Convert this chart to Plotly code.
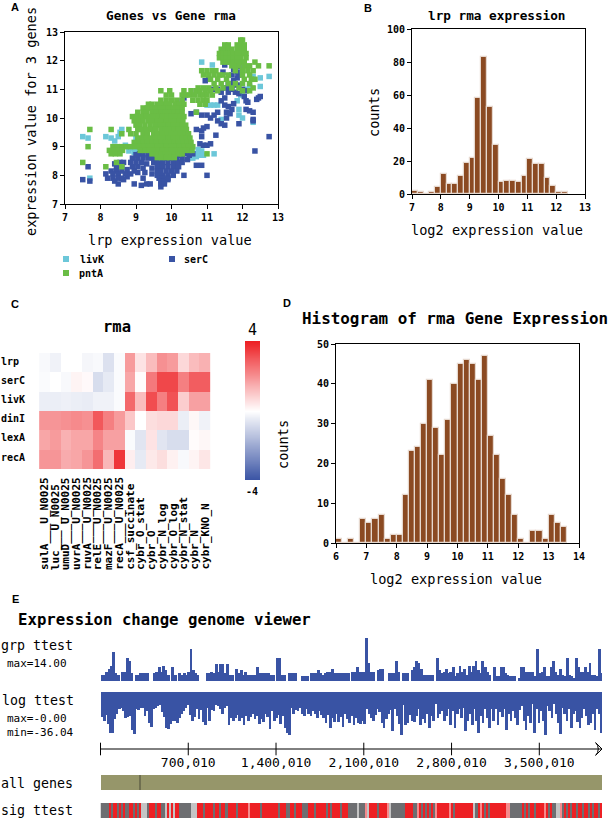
import plotly.graph_objects as go

W, H = 609, 825
MONO = "DejaVu Sans Mono"
BLUE = "#3953a4"
GREEN = "#6abd45"
CYAN = "#6cc7d9"
BROWN = "#8b4a22"
BAR_EDGE = "#e6d8ce"

# ---------- Panel A ----------
livK_points = [(7.5,9.35),(7.65,9.3),(7.7,7.9),(8.15,9.35),(8.3,9.3),(8.4,9.2),(8.5,9.35),(8.55,9.5),(8.6,9.6),(8.7,9.05),
 (8.85,8.95),(9.0,8.85),(9.0,9.3),(10.6,8.6),(10.7,8.65),(10.8,8.7),(10.85,8.85),(10.75,8.9),(10.9,8.7),(11.2,8.75),(10.7,8.75),
 (10.85,11.95),(11.15,11.85),(12.3,11.45),(12.5,11.4),(12.75,11.45),(12.5,11.1),(11.0,10.45),(11.1,10.45),(11.2,10.45),(11.3,10.45),
 (11.4,9.95),(12.0,10.0),(11.9,10.1),(11.9,10.3),(11.85,10.6),(11.95,10.8),(12.1,11.0),(12.2,11.1),(12.3,9.85),(10.3,10.05),
 (8.8,8.85),(8.95,8.8)]
serC_points = [(9.1,8.75),(9.2,8.75),(9.35,8.7),(10.4,8.75),(10.5,8.7),(10.6,8.75),(8.55,8.45),(8.9,8.6),(9.05,8.6),(9.2,8.6),(9.35,8.6),
 (9.65,8.55),(10.3,8.6),(10.45,8.55),(8.65,8.45),(8.85,8.45),(9.0,8.45),(9.15,8.45),(9.3,8.4),(9.5,8.45),(9.6,8.45),(9.75,8.45),(9.9,8.45),
 (10.05,8.45),(10.2,8.45),(10.3,8.45),(7.65,8.3),(8.45,8.3),(8.6,8.3),(8.9,8.3),(9.05,8.3),(9.2,8.25),(9.45,8.25),(9.6,8.3),(9.75,8.3),(9.9,8.3),
 (10.05,8.3),(10.2,8.3),(8.3,8.15),(8.45,8.15),(8.6,8.15),(8.95,8.15),(9.05,8.1),(9.6,8.15),(9.7,8.15),(9.85,8.15),(10.0,8.15),(10.15,8.15),
 (8.15,8.05),(8.35,8.05),(8.5,8.05),(8.7,8.05),(9.6,8.0),(9.75,8.0),(9.9,8.0),(10.05,8.0),(8.2,7.9),(8.35,7.9),(8.5,7.9),(8.6,7.9),(8.75,7.95),
 (9.2,7.9),(9.65,7.9),(9.75,7.9),(9.9,7.9),(10.35,8.0),(7.5,7.85),(8.4,7.8),(8.65,7.85),(9.7,7.8),(9.8,7.8),(9.9,7.85),(7.7,7.8),(8.5,7.7),
 (8.95,7.7),(9.15,7.65),(9.3,7.7),(9.4,7.7),(9.7,7.7),(9.8,7.7),(9.7,7.6),(10.7,8.35),(10.85,8.35),(11.0,8.0),(10.7,9.6),(10.85,9.55),
 (10.9,9.65),(11.0,9.7),(10.85,9.35),(10.8,9.1),(10.9,9.05),(11.0,9.05),(11.1,9.1),(11.25,9.4),(10.55,10.15),(10.7,10.2),(10.85,10.1),
 (11.0,10.1),(11.1,10.0),(11.2,10.1),(11.3,9.9),(11.3,10.2),(11.4,9.8),(11.5,9.75),(11.55,10.0),(11.55,10.2),(11.65,10.15),(11.7,10.3),
 (11.75,10.5),(11.6,10.4),(11.5,10.45),(11.9,9.8),(12.3,9.95),(12.3,9.9),(12.35,8.85),(12.75,9.35),(12.1,10.3),(12.2,10.25),(12.3,10.2),
 (12.1,10.6),(12.15,10.55),(12.4,10.65),(12.45,10.7),(12.5,10.75),(11.4,10.6),(11.5,10.7),(11.4,10.9),(11.3,11.0),(11.6,10.9),(11.7,11.0),
 (11.8,10.9),(11.9,10.85),(12.0,11.0),(12.1,10.95),(11.6,11.2),(11.7,11.15),(11.75,11.3),(11.85,11.4),(11.9,11.5),(11.85,11.6),(11.7,11.5),
 (11.5,11.85),(11.05,11.35),(10.95,11.3),(11.75,11.7),(11.9,11.8),(11.45,11.6),(11.15,11.0),(10.7,10.95),(10.35,10.7),(10.3,10.6),(10.0,9.9),
 (12.05,10.75),(11.85,11.15),(11.55,11.05),(10.2,8.7),(9.5,8.62),(9.0,8.72),(8.4,8.4),(8.75,8.2),(8.85,8.05),(9.45,8.05),(9.25,8.1),
 (10.0,8.6),(10.15,8.6),(9.85,8.6)]
pntA_rows = [
 (12.72,[11.95,12.0]),(12.55,[11.5,11.6,11.85,11.95,12.05]),(12.4,[11.4,11.5,11.6,11.7,11.85,11.95,12.05]),
 (12.25,[11.35,11.45,11.55,11.65,11.75,11.85,11.95,12.05,12.1]),(12.1,[11.35,11.45,11.55,11.65,11.75,11.85,11.95,12.1]),
 (11.95,[11.45,11.55,11.65,11.75,11.85,11.95,12.05,12.35]),(11.82,[11.7,11.8,11.9,12.05,12.2,12.45,12.75]),
 (11.65,[10.85,11.0,11.15,11.25,11.8,12.0,12.15,12.3]),(11.5,[10.9,11.05,11.2,11.35,11.45,11.6,12.0,12.2]),
 (11.35,[11.1,11.3,11.55,12.05,12.25,12.35]),(11.2,[11.2,11.4,11.6,11.8,12.0,12.2]),
 (11.05,[10.75,10.9,11.05,11.25,11.45,11.7,11.9,12.3]),(10.95,[9.7,9.95,10.35,10.55,10.7,10.8,10.95,11.1,11.3,12.0,12.2]),
 (10.8,[9.85,10.0,10.3,10.4,10.5,10.65,10.8,10.9,11.0,11.15]),(10.62,[9.7,9.85,10.0,10.15,10.3,10.6,10.75,10.9,11.0]),
 (10.48,[9.35,9.45,9.6,9.72,9.85,9.95,10.1,10.22,10.35,10.8,10.95]),(10.35,[9.2,9.32,9.45,9.55,9.68,9.8,9.92,10.05,10.18,10.3]),
 (10.2,[9.05,9.2,9.3,9.45,9.58,9.7,9.82,9.95,10.08,10.2,10.3,10.7]),
 (10.05,[8.9,9.02,9.15,9.28,9.4,9.5,9.62,9.75,9.88,10.0,10.12,10.25,10.35]),
 (9.9,[8.95,9.08,9.2,9.35,9.48,9.6,9.72,9.85,9.98,10.1,10.22,10.32]),
 (9.75,[9.0,9.1,9.25,9.4,9.55,9.68,9.8,9.92,10.05,10.18,10.3,10.4]),
 (9.6,[7.7,8.3,8.8,9.05,9.15,9.3,9.42,9.55,9.7,9.82,9.95,10.08,10.2,10.32,10.42]),
 (9.45,[8.6,8.85,9.0,9.2,9.32,9.5,9.6,9.75,9.88,10.0,10.12,10.25,10.38,10.48]),
 (9.3,[9.05,9.18,9.3,9.42,9.55,9.68,9.8,9.92,10.05,10.18,10.3,10.42,10.52]),
 (9.15,[8.95,9.08,9.2,9.32,9.45,9.58,9.7,9.82,9.95,10.08,10.2,10.32,10.45,10.55]),
 (9.0,[7.65,8.35,8.48,8.6,8.72,8.85,8.98,9.1,9.22,9.35,9.48,9.6,9.72,9.85,9.98,10.1,10.22,10.35,10.48,10.6]),
 (8.87,[8.25,8.38,8.5,8.62,9.12,9.25,9.38,9.5,9.62,9.75,9.88,10.0,10.12,10.25,10.38,10.5,10.58]),
 (8.75,[8.3,8.42,8.55,9.45,9.58,9.7,9.82,9.95,10.08,10.2,10.3,11.0]),
 (8.62,[9.6,9.72,9.85,9.95,10.08]),(8.45,[7.5,8.45]),(8.3,[8.15,8.6])]

# ---------- Panel B ----------
lrp_bin_start = 7.0
lrp_bin_width = 0.2
lrp_counts = [2,1,0,1,4,12,6,6,11,19,22,58,83,53,30,7,8,8,7,11,21,18,18,10,5,1,1]

# ---------- Panel C ----------
heat_rows = ["lrp","serC","livK","dinI","lexA","recA"]
heat_cols = ["sulA___U_N0025","luc___U_N0025","umuD___U_N0025","uvrA___U_N0025","ruvA___U_N0025","relE___U_N0025",
             "mazF___U_N0025","recA___U_N0025","csf_succinate","cybr_O_stat","cybr_O","cybr_N_log","cybr_O_log",
             "cybr_N_stat","cybr_N","cybr_KNO_N"]
heat_lrp  = [-0.15,-0.3,0,0,-0.2,-0.15,-0.7,-0.1,1.8,0.5,1.2,2.0,1.8,0.7,1.2,1.4]
heat_serC = [-0.1,0,-0.15,0.2,0.1,-0.8,-0.5,-0.1,1.6,0.05,2.4,3.3,3.3,2.3,2.9,2.9]
heat_livK = [-0.4,-0.4,-0.35,-0.4,-0.45,-0.3,-0.3,-0.1,2.7,1.2,3.2,2.3,3.1,0.9,1.7,1.7]
heat_dinI = [1.9,1.9,2.0,2.1,2.0,3.0,2.3,1.8,1.0,0,0.6,0.7,0.7,-0.4,0.15,-0.3]
heat_lexA = [1.6,1.8,1.4,1.6,1.6,2.2,1.7,1.7,-0.1,-0.6,0.5,-0.6,-0.8,-0.8,0.05,0.15]
heat_recA = [1.9,1.9,1.5,1.6,1.9,2.6,1.3,3.6,0.3,-0.5,0.4,0.6,0.25,-0.15,0.2,0.45]
scale_levels = [-4,-3.5,-3,-2.5,-2,-1.5,-1,-0.5,0,0.5,1,1.5,2,2.5,3,3.5,4]

# ---------- Panel D ----------
rma_bin_start = 6.0
rma_bin_width = 0.2
rma_counts = [1,0,1,0,6,5,6,7,1,2,2,12,23,24,30,41,29,22,31,40,45,46,45,41,47,27,22,16,12,7,1,0,3,3,1,7,5,4]

# ---------- Panel E ----------
genome_length = 4000000
ruler_ticks = [700010,1400010,2100010,2800010,3500010]
ruler_labels = ["700,010","1,400,010","2,100,010","2,800,010","3,500,010"]
grp_values = [2,2,3,4,5,9.5,2.5,2,0,3,3,7.5,6.5,2.5,0,2,2,2.5,2.5,2.5,2.5,0,0,2.5,3,4.5,3,5,3.5,2,0,4.5,2,0,2.5,2,2.5,2,3,
 10.5,3.5,2.5,2,0,0,0,2.5,2.5,3,2.5,5.5,3,5.5,5.5,2.5,5.5,2,2,0,4,2.5,3.5,2,3,2,2,2,2,4.5,2.5,2.5,2.5,2.5,2.5,2,2,0,7.5,7.5,2,2,0,
 2.5,2.5,2.5,2.5,0,0,1.5,1.5,1.5,0,2.5,2.5,2.5,3.5,
 2.5,2,2.5,3,3,4,2.5,2.5,2.5,2.5,2.5,2.5,2.5,0,3,3,4.5,3,3,3,14,6,3,3,0,3.5,4,4,0,0,2.5,2.5,2.5,6.5,3,0,2.5,2.5,2.5,0,3.5,4.5,6.5,
 6,4,2,2,2,2,2,0,7.5,3.5,2.5,3,4,2.5,3,4.5,1.5,2.5,5,3,4,2,5,3,5,6.5,3.5,2.5,6.5,4.5,3,2,0,4.5,1.5,1.5,4.5,4.5,2.5,2,1.5,1.5,1.5,0,
 1,4.5,4.5,3,3,3,3,1.5,10.5,2.5,3,4.5,1.5,1.5,4.5,6.5,3,2,4,2,1.5,7.5,2,1.5,1,7.5,4.5,3,3,4.5,3,6,2,2,1.5,10.5,2.5]
log_values = [-21,-24,-19,-27,-34,-34,-23,-18,-14,-13,-16,-22,-21,-20,-32,-35,-14,-15,-13,-13,-20,-16,-26,-29,-14,-13,-12,-11,-17,-21,-30,-31,
 -27,-24,-24,-26,-22,-18,-16,-13,-11,-19,-24,-21,-14,-23,-15,-25,-28,-13,-24,-15,-16,-11,-12,-14,-18,-13,-12,-28,-22,-24,-22,-19,-24,-22,-28,
 -20,-24,-21,-18,-23,-20,-27,-23,-25,-18,-21,-31,-16,-24,-22,-19,-27,-20,-30,-34,-36,-13,-18,-15,-16,-13,-18,-20,-14,-18,-20,-16,-18,-22,-16,
 -19,-22,-26,-19,-30,-22,-25,-18,-25,-21,-29,-18,-23,-26,-20,-28,-22,-26,-27,-24,-27,-14,-18,-22,-24,-19,-14,-17,-26,-30,-23,-18,-15,-33,-14,
 -20,-27,-36,-11,-28,-26,-19,-24,-25,-20,-14,-28,-23,-26,-18,-30,-20,-24,-10,-22,-18,-16,-24,-20,-14,-28,-16,-30,-18,-14,-22,-13,-33,-24,-18,
 -28,-14,-24,-34,-20,-26,-14,-22,-30,-14,-24,-14,-28,-17,-21,-14,-32,-18,-24,-16,-22,-28,-15,-12,-24,-32,-20,-26,-10,-34,-14,-26,-16,-24,-36,
 -12,-16,-22,-10,-18,-26,-35,-13,-18,-24,-14,-30,-18,-16,-25,-30,-22,-14,-20,-28,-26,-18,-32,-14,-18,-34]
sig_codes = ("GGGGRG"+"RR"+"G"+"RGR"+"GG"+"R"+"RGR"+"GR"+"LLL"+"G"+"RRRGRR"+"GG"+"L"+"RLRL"+"RR"+"GGGGGG"+"LLL"+"RRRGRRRRGR"
 +"RGRRGRRRRGRRRRRPRRRRRGRRRRRRRRGRRRGGRRGRRRGG"+"GRRRGRRRRRGRGRRRRGRRRGGGG"+"LGGGPL"+"RRRRGRRRRP"+"LGGGGGGG"+"RRRR"+"GGP"
 +"RGRGRGRGP"+"RRRRR"+"RPR"+"GRRRRRRRRR"+"LG"+"RPR"+"GRGRR"+"RRRRRR"+"PPG"+"GGGGG"+"RGRGRRGR"+"RRRP"+"RGRGG"+"LL"+"PG"+"RGRG"
 +"RRGRRGRRGRGRRGR")
sig_levels = {"L":0,"G":1,"P":2,"R":3}
gene_marker = 310000


def fx(p): return p / W
def fy(p): return 1 - p / H


def track_centres(values):
    step = genome_length / len(values)
    return [step * (i + 0.5) for i in range(len(values))], step


fig = go.Figure()

# Panel A traces
fig.add_trace(go.Scatter(x=[p[0] for p in livK_points], y=[p[1] for p in livK_points], mode="markers", name="livK",
                         marker=dict(symbol="square", size=5.5, color=CYAN), xaxis="x", yaxis="y"))
fig.add_trace(go.Scatter(x=[p[0] for p in serC_points], y=[p[1] for p in serC_points], mode="markers", name="serC",
                         marker=dict(symbol="square", size=5.5, color=BLUE), xaxis="x", yaxis="y"))
pnt_x = [x for y, xs in pntA_rows for x in xs]
pnt_y = [y for y, xs in pntA_rows for x in xs]
fig.add_trace(go.Scatter(x=pnt_x, y=pnt_y, mode="markers", name="pntA",
                         marker=dict(symbol="square", size=5.5, color=GREEN), xaxis="x", yaxis="y"))

# Panel B
fig.add_trace(go.Bar(x=[lrp_bin_start + lrp_bin_width * (i + .5) for i in range(len(lrp_counts))], y=lrp_counts,
                     width=lrp_bin_width, marker=dict(color=BROWN, line=dict(color=BAR_EDGE, width=1.2)),
                     xaxis="x2", yaxis="y2"))

# Panel C
HEAT_SCALE = [[0, BLUE], [0.5, "#ffffff"], [1, "#ed2024"]]
heat_z = [heat_lrp, heat_serC, heat_livK, heat_dinI, heat_lexA, heat_recA]
fig.add_trace(go.Heatmap(z=heat_z, x=heat_cols, y=heat_rows, zmin=-4, zmax=4, colorscale=HEAT_SCALE, showscale=False,
                         xaxis="x3", yaxis="y3"))
fig.add_trace(go.Heatmap(z=[[v] for v in scale_levels], y=scale_levels, x=[0], zmin=-4, zmax=4, colorscale=HEAT_SCALE,
                         showscale=False, zsmooth="best", xaxis="x10", yaxis="y10"))

# Panel D
fig.add_trace(go.Bar(x=[rma_bin_start + rma_bin_width * (i + .5) for i in range(len(rma_counts))], y=rma_counts,
                     width=rma_bin_width, marker=dict(color=BROWN, line=dict(color=BAR_EDGE, width=1.2)),
                     xaxis="x4", yaxis="y4"))

# Panel E tracks
gx, gstep = track_centres(grp_values)
fig.add_trace(go.Bar(x=gx, y=grp_values, width=gstep * 1.25, marker=dict(color=BLUE, line=dict(width=0)), xaxis="x5", yaxis="y5"))
lx, lstep = track_centres(log_values)
fig.add_trace(go.Bar(x=lx, y=log_values, width=lstep * 1.25, marker=dict(color=BLUE, line=dict(width=0)), xaxis="x6", yaxis="y6"))
fig.add_trace(go.Scatter(x=[0] + ruler_ticks + [genome_length], y=[0] * (len(ruler_ticks) + 2), mode="lines+markers",
                         line=dict(color="black", width=1),
                         marker=dict(symbol=["line-ns"] * (len(ruler_ticks) + 1) + ["arrow-wide-open"], angle=[0] * (len(ruler_ticks) + 1) + [90],
                                     size=9, color="black", line=dict(color="black", width=1)),
                         cliponaxis=False, xaxis="x7", yaxis="y7"))
fig.add_trace(go.Bar(x=[genome_length / 2], y=[1], width=genome_length, marker=dict(color="#96966a", line=dict(width=0)),
                     xaxis="x8", yaxis="y8"))
fig.add_trace(go.Bar(x=[gene_marker], y=[1], width=genome_length / 500, marker=dict(color="#6f6f50", line=dict(width=0)),
                     xaxis="x8", yaxis="y8"))
sig_list = list(sig_codes)
sx, sstep = track_centres(sig_list)
fig.add_trace(go.Heatmap(x=sx, y=[0], z=[[sig_levels[c] for c in sig_list]], zmin=0, zmax=3, showscale=False,
                         colorscale=[[0, "#c4c4c4"], [0.25, "#c4c4c4"], [0.25, "#6d6e71"], [0.5, "#6d6e71"],
                                     [0.5, "#f58a8c"], [0.75, "#f58a8c"], [0.75, "#ed2024"], [1, "#ed2024"]],
                         xaxis="x9", yaxis="y9"))

tick_font = dict(family=MONO, size=10, color="black", weight=700)


def frame_axis(x0, x1, **kw):
    return dict(domain=[x0, x1], showline=True, mirror=True, linecolor="black", linewidth=1, showgrid=False, zeroline=False,
                ticks="outside", ticklen=4, tickcolor="black", tickfont=tick_font, **kw)


hidden = dict(visible=False, showgrid=False, zeroline=False)

fig.update_layout(
    width=W, height=H, margin=dict(l=0, r=0, t=0, b=0, autoexpand=False), showlegend=False, plot_bgcolor="white", paper_bgcolor="white",
    barmode="overlay", bargap=0,
    xaxis=frame_axis(fx(65), fx(278), range=[7, 13], dtick=1, anchor="y"),
    yaxis=frame_axis(fy(204), fy(32), range=[7, 13], dtick=1, anchor="x"),
    xaxis2=frame_axis(fx(412), fx(585), range=[7, 13], dtick=1, anchor="y2"),
    yaxis2=frame_axis(fy(194), fy(29), range=[0, 100], dtick=20, anchor="x2"),
    xaxis3=dict(domain=[fx(36), fx(213)], anchor="y3", showticklabels=False, ticks="", showgrid=False, zeroline=False),
    yaxis3=dict(domain=[fy(469), fy(353)], anchor="x3", showticklabels=False, ticks="", showgrid=False, zeroline=False, autorange="reversed"),
    xaxis4=frame_axis(fx(336), fx(579), range=[6, 14], dtick=1, anchor="y4"),
    yaxis4=frame_axis(fy(543), fy(344), range=[0, 50], dtick=10, anchor="x4"),
    xaxis5=dict(domain=[fx(100.5), fx(602)], range=[0, genome_length], anchor="y5", **hidden),
    yaxis5=dict(domain=[fy(681), fy(638)], range=[0, 14], anchor="x5", **hidden),
    xaxis6=dict(domain=[fx(100.5), fx(602)], range=[0, genome_length], anchor="y6", **hidden),
    yaxis6=dict(domain=[fy(735), fy(692)], range=[-36, 0], anchor="x6", **hidden),
    xaxis7=dict(domain=[fx(100.5), fx(602)], range=[0, genome_length], anchor="y7", tickvals=ruler_ticks, ticktext=ruler_labels,
                tickfont=dict(family=MONO, size=13, color="black"), ticks="", showline=False, showgrid=False, zeroline=False, tickangle=0),
    yaxis7=dict(domain=[fy(753), fy(745)], range=[-1, 1], anchor="x7", **hidden),
    xaxis8=dict(domain=[fx(100.5), fx(602)], range=[0, genome_length], anchor="y8", **hidden),
    yaxis8=dict(domain=[fy(790), fy(775)], range=[0, 1], anchor="x8", **hidden),
    xaxis9=dict(domain=[fx(100.5), fx(602)], range=[0, genome_length], anchor="y9", **hidden),
    yaxis9=dict(domain=[fy(818), fy(803)], anchor="x9", **hidden),
    xaxis10=dict(domain=[fx(245), fx(260)], anchor="y10", **hidden),
    yaxis10=dict(domain=[fy(480), fy(341)], range=[-4, 4], anchor="x10", **hidden),
)

annos = []


def text(s, px, py, size, bold=False, anchor="center", family=MONO, angle=0):
    if anchor == "left":
        px -= 2
    annos.append(dict(text=s, x=fx(px), y=fy(py), xref="paper", yref="paper", xanchor=anchor, yanchor="middle", showarrow=False,
                      textangle=angle, font=dict(family=family, size=size, color="black", weight=700 if bold else 400)))


for s, px, py in [("A", 15, 7), ("B", 368, 8), ("C", 15, 304), ("D", 287, 303), ("E", 15, 599)]:
    text(s, px, py, 11, True, family="Liberation Sans")

text("Genes vs Gene rma", 171, 15, 12.7, True)
text("lrp rma expression", 497, 15, 12.7, True)
text("rma", 117, 327, 15.5, True)
text("Histogram of rma Gene Expression", 454.5, 318, 15.9, True)
text("Expression change genome viewer", 18, 619, 15.7, True, anchor="left")

text("lrp expression value", 170, 240, 13.6)
text("expression value for 3 genes", 31, 122, 13.6, angle=-90)
text("log2 expression value", 497, 230, 13.6)
text("counts", 374, 113, 13.6, angle=-90)
text("log2 expression value", 456, 579, 13.6)
text("counts", 283, 445, 13.6, angle=-90)

# Legend of panel A
for s, color, mx, tx, py in [("livK", CYAN, 66, 80, 259), ("serC", BLUE, 172, 184, 259), ("pntA", GREEN, 66, 79, 273)]:
    fig.add_shape(type="rect", xref="paper", yref="paper", x0=fx(mx - 3), x1=fx(mx + 3), y0=fy(py + 3), y1=fy(py - 3),
                  fillcolor=color, line=dict(width=0))
    text(s, tx, py, 10, True, anchor="left")

# Panel C labels
for r, py in zip(heat_rows, [362, 380, 399, 418, 437, 457]):
    text(r, 1, py, 10, True, anchor="left")
for c in heat_cols:
    annos.append(dict(text=c, x=c, xref="x3", y=fy(572), yref="paper", xanchor="center", yanchor="bottom", showarrow=False,
                      textangle=-90, font=dict(family=MONO, size=11, color="black", weight=700)))
text("4", 252, 330, 15)
text("-4", 252, 492, 10, True)

# Panel E labels
text("grp ttest", 1, 645, 13.3, anchor="left")
text("max=14.00", 7, 663, 11, anchor="left")
text("log ttest", 2, 700, 13.3, anchor="left")
text("max=-0.00", 7, 718, 11, anchor="left")
text("min=-36.04", 7, 732, 11, anchor="left")
text("all genes", 1, 783, 13.3, anchor="left")
text("sig ttest", 1, 810, 13.3, anchor="left")

fig.update_layout(annotations=annos)
fig.write_html("out.html", config={"displayModeBar": False},
               post_script="document.body.style.margin='0';document.body.style.overflow='hidden';")
